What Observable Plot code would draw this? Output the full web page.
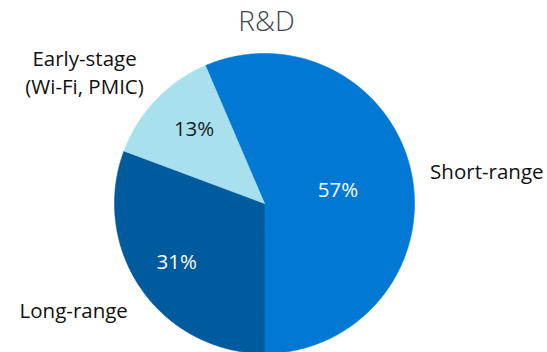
<!DOCTYPE html>
<html>
<head>
<meta charset="utf-8">
<script src="https://cdn.jsdelivr.net/npm/d3@7"></script>
<script src="https://cdn.jsdelivr.net/npm/@observablehq/plot@0.6"></script>
<style>
  html, body { margin: 0; padding: 0; background: #fff; }
  #chart svg { display: block; }
</style>
</head>
<body>
<div id="chart"></div>
<script>
// R&D spending split by horizon
const title = "R&D";
const categories = ["Short-range", "Long-range", "Early-stage\n(Wi-Fi, PMIC)"];
const shares = [57, 31, 13];            // percent, as labelled
const colors = ["#0078D4", "#005A9E", "#A8E0EE"];
const valueColors = ["#ffffff", "#ffffff", "#1a1a1a"];

// layout: pie rotation and label placement (radius units / pixel nudges)
const startDeg = -23.2;
const innerLabelRadius = [0.5, 0.705, 0.69];
const innerNudge = [[0, 2.5], [-1, -1], [4.5, -2.5]];
const outerLabelRadius = [1.1, 1.232, 1.28];
const outerAnchor = ["start", "middle", "middle"];
const outerNudge = [[4, 0], [-39, 0], [-41, 0]];

const W = 547, H = 352, cx = 264, cy = 203, R = 150;
const labelSize = 20.5;

const pie = d3.pie().sort(null).value(d => d.value)
  .startAngle(startDeg * Math.PI / 180)
  .endAngle(startDeg * Math.PI / 180 + 2 * Math.PI);
const arcs = pie(categories.map((name, i) => ({name, value: shares[i], i})));

// polygon outline of each slice in radius units (y up)
const pts = [];
for (const a of arcs) {
  const n = Math.max(2, Math.ceil((a.endAngle - a.startAngle) / (Math.PI / 360)));
  pts.push({name: a.data.name, x: 0, y: 0});
  for (let k = 0; k <= n; k++) {
    const t = a.startAngle + (a.endAngle - a.startAngle) * k / n;
    pts.push({name: a.data.name, x: Math.sin(t), y: Math.cos(t)});
  }
  pts.push({name: a.data.name, x: 0, y: 0});
}

const mid = a => (a.startAngle + a.endAngle) / 2;
const inner = arcs.map((a, i) => ({
  label: `${a.data.value}%`,
  x: Math.sin(mid(a)) * innerLabelRadius[i],
  y: Math.cos(mid(a)) * innerLabelRadius[i],
  color: valueColors[i], dx: innerNudge[i][0], dy: innerNudge[i][1]
}));
const outer = arcs.map((a, i) => ({
  label: a.data.name,
  x: Math.sin(mid(a)) * outerLabelRadius[i],
  y: Math.cos(mid(a)) * outerLabelRadius[i],
  anchor: outerAnchor[i],
  dx: outerNudge[i][0], dy: outerNudge[i][1]
}));

const font = "'Open Sans', 'Noto Sans', sans-serif";

const chart = Plot.plot({
  width: W, height: H,
  margin: 0,
  style: {fontFamily: font, background: "#fff"},
  x: {domain: [-cx / R, (W - cx) / R], axis: null},
  y: {domain: [-(H - cy) / R, cy / R], axis: null},
  color: {domain: categories, range: colors},
  marks: [
    Plot.line(pts, {x: "x", y: "y", z: "name", fill: "name", stroke: "name", strokeWidth: 0.6, curve: "linear"}),
    ...inner.map(d => Plot.text([d], {x: "x", y: "y", text: "label", fill: d.color, dx: d.dx, dy: d.dy, fontSize: labelSize})),
    ...outer.map(d => Plot.text([d], {x: "x", y: "y", text: "label", textAnchor: d.anchor, dx: d.dx, dy: d.dy,
      fill: "#111", fontSize: labelSize, lineHeight: 28 / labelSize})),
    Plot.text([title], {x: 0, frameAnchor: "top", text: d => d, dy: 11, dx: 2, fontSize: 28, fill: "#3d4650", fontWeight: 300})
  ]
});
document.getElementById("chart").append(chart);
</script>
</body>
</html>
